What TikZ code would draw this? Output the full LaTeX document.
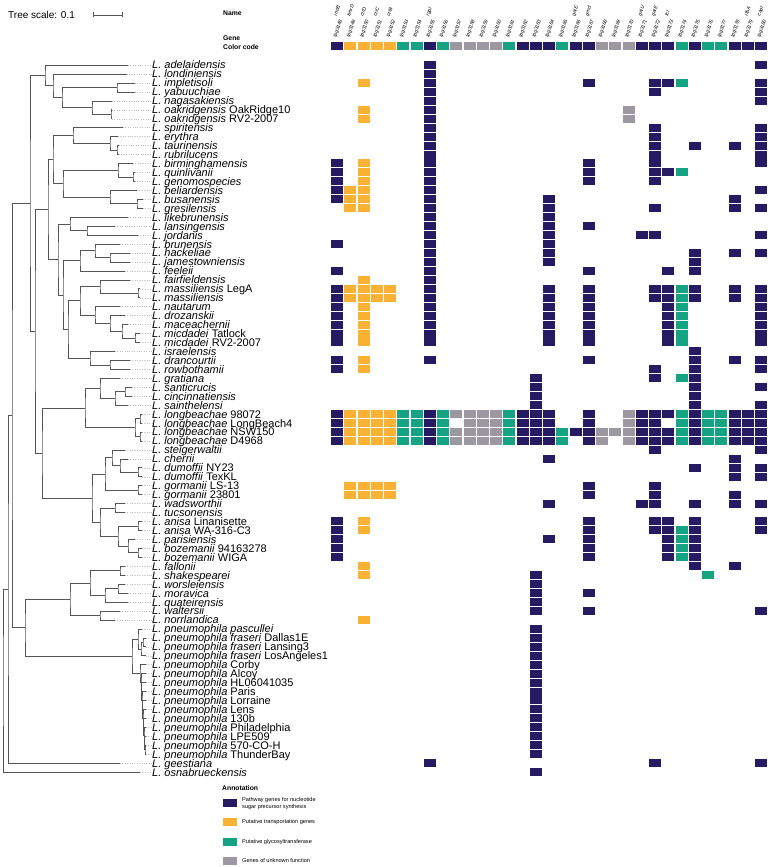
\documentclass[tikz,border=0pt]{standalone}
\usepackage{fontspec}
\setmainfont{Liberation Sans}
\usetikzlibrary{calc}

\definecolor{pathblue}{RGB}{38,26,98}
\definecolor{transorange}{RGB}{250,178,52}
\definecolor{gtteal}{RGB}{22,163,132}
\definecolor{unkgrey}{RGB}{156,152,162}
\definecolor{treegrey}{RGB}{85,85,85}

\tikzset{
  branch/.style={draw=treegrey, line width=0.6pt},
  leader/.style={draw=black!25, dotted, line width=0.4pt},
  taxon/.style={anchor=west, inner sep=0pt, text height=8pt, text depth=0pt,
    font=\fontsize{11}{11}\selectfont},
  cell/.style={minimum width=12pt, minimum height=8pt, inner sep=0pt},
  genelab/.style={rotate=70, anchor=west, inner sep=0pt,
    font=\fontsize{5}{5}\selectfont\itshape},
  headlab/.style={anchor=west, inner sep=0pt, font=\fontsize{6.8}{6.8}\selectfont\bfseries},
  legtext/.style={anchor=west, inner sep=0pt, align=left,
    font=\fontsize{5.6}{7}\selectfont},
}

% internal node of the tree: name, x, first child, second child
\newcommand\clade[4]{%
  \path let \p1=($(#3)!.5!(#4)$) in coordinate (#1) at (#2pt,\y1);
  \draw[branch] (#3) -| (#1) |- (#4);
}

\begin{document}
\begin{tikzpicture}[x=1pt,y=-1pt]
\useasboundingbox (0,0) rectangle (770,867);

% colour of each gene column
\foreach \c/\col in {1/pathblue,2/transorange,3/transorange,4/transorange,5/transorange,
  6/gtteal,7/gtteal,8/pathblue,9/gtteal,10/unkgrey,11/unkgrey,12/unkgrey,13/unkgrey,
  14/gtteal,15/pathblue,16/pathblue,17/pathblue,18/gtteal,19/pathblue,20/pathblue,
  21/unkgrey,22/unkgrey,23/unkgrey,24/pathblue,25/pathblue,26/pathblue,27/gtteal,
  28/pathblue,29/gtteal,30/gtteal,31/pathblue,32/pathblue,33/pathblue}
  {\expandafter\xdef\csname gcol\c\endcsname{\col}}

% tree scale
\node[anchor=west, inner sep=0pt, font=\fontsize{10}{10}\selectfont] (scaletxt) at (8,15) {Tree scale: 0.1};
\coordinate (sbl) at (93,15);
\coordinate (sbr) at (122,15);
\draw[branch] (sbl) -- (sbr);
\draw[branch] ($(sbl)+(0,-2.5)$) -- ($(sbl)+(0,2.5)$);
\draw[branch] ($(sbr)+(0,-2.5)$) -- ($(sbr)+(0,2.5)$);

% header
\node[headlab] (hname) at (223,13) {Name};
\node[headlab] (hgene) at (223,38) {Gene};
\node[headlab] (hcode) at (223,47) {Color code};
\foreach \c in {1,...,33}{
  \edef\cc{\csname gcol\c\endcsname}
  \pgfmathtruncatemacro\lpg{3147+\c}
  \node[cell, fill=\cc] (code\c) at ({337+13.25*(\c-1)},46) {};
  \node[genelab] (gene\c) at ({335+13.25*(\c-1)},37) {lpg\lpg};
}
\foreach \c/\nm in {1/rmlB,2/bexD,3/ctrD,4/ctrC,5/ctrB,8/rgpI,19/galE,20/gmd,
  24/galU,25/galE,26/fcl,32/rfbA,33/capI}
  \node[genelab] (name\c) at ({335+13.25*(\c-1)},16) {\nm};

% taxa
\foreach \r/\tx/\lab in {
  1/128/{\textit{L. adelaidensis}}, 2/127/{\textit{L. londiniensis}},
  3/135/{\textit{L. impletisoli}}, 4/135/{\textit{L. yabuuchiae}},
  5/112/{\textit{L. nagasakiensis}}, 6/112/{\textit{L. oakridgensis} OakRidge10},
  7/112/{\textit{L. oakridgensis} RV2-2007}, 8/123/{\textit{L. spiritensis}},
  9/118/{\textit{L. erythra}}, 10/119/{\textit{L. taurinensis}},
  11/119/{\textit{L. rubrilucens}}, 12/133/{\textit{L. birminghamensis}},
  13/135/{\textit{L. quinlivanii}}, 14/135/{\textit{L. genomospecies}},
  15/137/{\textit{L. beliardensis}}, 16/143/{\textit{L. busanensis}},
  17/143/{\textit{L. gresilensis}}, 18/128/{\textit{L. likebrunensis}},
  19/115/{\textit{L. lansingensis}}, 20/138/{\textit{L. jordanis}},
  21/120/{\textit{L. brunensis}}, 22/130/{\textit{L. hackeliae}},
  23/130/{\textit{L. jamestowniensis}}, 24/125/{\textit{L. feeleii}},
  25/130/{\textit{L. fairfieldensis}}, 26/140/{\textit{L. massiliensis} LegA},
  27/140/{\textit{L. massiliensis}}, 28/120/{\textit{L. nautarum}},
  29/125/{\textit{L. drozanskii}}, 30/128/{\textit{L. maceachernii}},
  31/140/{\textit{L. micdadei} Tatlock}, 32/140/{\textit{L. micdadei} RV2-2007},
  33/115/{\textit{L. israelensis}}, 34/130/{\textit{L. drancourtii}},
  35/130/{\textit{L. rowbothamii}}, 36/120/{\textit{L. gratiana}},
  37/132/{\textit{L. santicrucis}}, 38/132/{\textit{L. cincinnatiensis}},
  39/128/{\textit{L. sainthelensi}}, 40/142/{\textit{L. longbeachae} 98072},
  41/142/{\textit{L. longbeachae} LongBeach4}, 42/142/{\textit{L. longbeachae} NSW150},
  43/142/{\textit{L. longbeachae} D4968}, 44/125/{\textit{L. steigerwaltii}},
  45/128/{\textit{L. cherrii}}, 46/142/{\textit{L. dumoffii} NY23},
  47/142/{\textit{L. dumoffii} TexKL}, 48/142/{\textit{L. gormanii} LS-13},
  49/142/{\textit{L. gormanii} 23801}, 50/125/{\textit{L. wadsworthii}},
  51/125/{\textit{L. tucsonensis}}, 52/142/{\textit{L. anisa} Linanisette},
  53/142/{\textit{L. anisa} WA-316-C3}, 54/135/{\textit{L. parisiensis}},
  55/142/{\textit{L. bozemanii} 94163278}, 56/142/{\textit{L. bozemanii} WIGA},
  57/125/{\textit{L. fallonii}}, 58/125/{\textit{L. shakespearei}},
  59/125/{\textit{L. worsleiensis}}, 60/128/{\textit{L. moravica}},
  61/128/{\textit{L. quateirensis}}, 62/120/{\textit{L. waltersii}},
  63/115/{\textit{L. norrlandica}}, 64/142/{\textit{L. pneumophila pascullei}},
  65/146/{\textit{L. pneumophila fraseri} Dallas1E},
  66/146/{\textit{L. pneumophila fraseri} Lansing3},
  67/146/{\textit{L. pneumophila fraseri} LosAngeles1},
  68/146/{\textit{L. pneumophila} Corby}, 69/146/{\textit{L. pneumophila} Alcoy},
  70/146/{\textit{L. pneumophila} HL06041035}, 71/146/{\textit{L. pneumophila} Paris},
  72/146/{\textit{L. pneumophila} Lorraine}, 73/146/{\textit{L. pneumophila} Lens},
  74/146/{\textit{L. pneumophila} 130b}, 75/146/{\textit{L. pneumophila} Philadelphia},
  76/146/{\textit{L. pneumophila} LPE509}, 77/146/{\textit{L. pneumophila} 570-CO-H},
  78/146/{\textit{L. pneumophila} ThunderBay}, 79/120/{\textit{L. geestiana}},
  80/140/{\textit{L. osnabrueckensis}}}{
  \coordinate (e\r) at (\tx,{65+8.95*(\r-1)});
  \node[taxon] (t\r) at (152,{65+8.95*(\r-1)}) {\lab};
  \draw[leader] (e\r) -- (t\r.west);
}

% tree
\clade{a1}{117}{e3}{e4}
\clade{a2}{111}{e6}{e7}
\clade{a3}{92}{e5}{a2}
\clade{a4}{62}{a1}{a3}
\clade{a5}{53}{e2}{a4}
\clade{a6}{45}{e1}{a5}
\clade{b1}{117}{e10}{e11}
\clade{b2}{110}{e9}{b1}
\clade{b3}{73}{e8}{b2}
\clade{b4}{133}{e13}{e14}
\clade{b5}{118}{e12}{b4}
\clade{b6}{137}{e16}{e17}
\clade{b7}{110}{e15}{b6}
\clade{b8}{63}{b5}{b7}
\clade{b9}{53}{b3}{b8}
\clade{c1}{87}{e19}{e20}
\clade{c2}{70}{e18}{c1}
\clade{c3}{110}{e22}{e23}
\clade{c4}{95}{e21}{c3}
\clade{c5}{80}{c4}{e24}
\clade{d1}{138}{e26}{e27}
\clade{d2}{100}{e25}{d1}
\clade{d3}{135}{e31}{e32}
\clade{d4}{122}{e30}{d3}
\clade{d5}{110}{e29}{d4}
\clade{d6}{95}{e28}{d5}
\clade{d7}{80}{d2}{d6}
\clade{d8}{110}{e34}{e35}
\clade{d9}{90}{e33}{d8}
\clade{d10}{68}{d7}{d9}
\clade{c6}{63}{c5}{d10}
\clade{c7}{58}{c2}{c6}
\clade{b10}{48}{b9}{c7}
\clade{f1}{125}{e37}{e38}
\clade{f2}{115}{f1}{e39}
\clade{f3}{100}{e36}{f2}
\clade{f4}{140}{e40}{e41}
\clade{f5}{140}{e42}{e43}
\clade{f6}{135}{f4}{f5}
\clade{f7}{85}{f3}{f6}
\clade{g1}{138}{e46}{e47}
\clade{g2}{120}{e45}{g1}
\clade{g3}{112}{e44}{g2}
\clade{g4}{138}{e48}{e49}
\clade{g5}{105}{g3}{g4}
\clade{g6}{115}{e50}{e51}
\clade{g7}{138}{e52}{e53}
\clade{g8}{138}{e55}{e56}
\clade{g9}{128}{e54}{g8}
\clade{g10}{118}{g7}{g9}
\clade{g11}{100}{g6}{g10}
\clade{g12}{92}{g5}{g11}
\clade{f8}{42}{f7}{g12}
\clade{p2}{35}{b10}{f8}
\clade{p1}{30}{a6}{p2}
\clade{h1}{120}{e57}{e58}
\clade{h2}{118}{e59}{e60}
\clade{h3}{105}{h2}{e61}
\clade{h4}{90}{h1}{h3}
\clade{h5}{100}{e62}{e63}
\clade{h6}{70}{h4}{h5}
\clade{k1}{143}{e65}{e66}
\clade{k2}{141}{k1}{e67}
\clade{k3}{138}{e64}{k2}
\clade{k4}{145}{e77}{e78}
\clade{k5}{144.5}{e76}{k4}
\clade{k6}{144}{e75}{k5}
\clade{k7}{143.5}{e74}{k6}
\clade{k8}{143}{e73}{k7}
\clade{k9}{142.5}{e72}{k8}
\clade{k10}{142}{e71}{k9}
\clade{k11}{141.5}{e70}{k10}
\clade{k12}{141}{e69}{k11}
\clade{k13}{140}{e68}{k12}
\clade{k14}{132}{k3}{k13}
\clade{p4}{25}{h6}{k14}
\clade{p6}{12}{p1}{p4}
\clade{p7}{8}{p6}{e79}
\clade{root}{3}{p7}{e80}

% heatmap: present genes per taxon
\foreach \r/\lst in {1/{8,33},2/{8},3/{3,8,20,25,26,27,33},4/{8,25,33},5/{8,33},
  6/{3,8,23},7/{3,8,23},8/{8,25,33},9/{8,25,33},10/{8,25,28,31,33},11/{8,25,33},
  12/{1,3,8,20,25,33},13/{1,3,8,20,25,26,27},14/{1,3,8,20,25},15/{1,2,3,8,33},
  16/{1,2,3,8,17,31},17/{2,3,8,17,25,31,33},18/{8,17},19/{8,17,20},
  20/{8,17,24,25,33},21/{1,8,17},22/{8,17,28,31,33},23/{8,17,28},24/{1,8,20,26,28},
  25/{3,8},26/{1,2,3,4,5,8,17,20,25,26,27,28,31,33},
  27/{1,2,3,4,5,8,17,20,25,26,27,28,31,33},28/{1,3,8,17,20,26,27,33},
  29/{1,3,8,17,20,26,27,33},30/{1,3,8,17,20,26,27,33},31/{1,3,8,17,20,26,27,33},
  32/{1,3,8,17,20,26,27,33},33/{28},34/{1,3,8,20,28,31,33},35/{1,3,25,28,33},
  36/{16,25,27,28},37/{16,28,33},38/{16,28},39/{16,28,33},
  40/{1,2,3,4,5,6,7,8,9,10,11,12,13,14,15,16,17,20,23,24,25,26,27,28,29,30,31,32,33},
  41/{1,2,3,4,5,6,7,8,9,11,12,13,14,15,16,17,20,23,24,25,27,28,29,30,31,32,33},
  42/{1,2,3,4,5,6,7,8,9,10,11,12,13,14,15,16,17,18,19,20,21,22,23,24,25,26,27,28,29,30,31,32,33},
  43/{1,2,3,4,5,6,7,8,9,10,11,12,13,14,15,16,17,18,20,21,23,24,25,26,27,28,29,30,31,32,33},
  44/{25,33},45/{17,31},46/{28,31,33},47/{31,33},48/{2,3,4,5,20,25},
  49/{2,3,4,5,20,25,31},50/{17,24,25,28,31,33},52/{1,3,20,25,26,28,33},
  53/{1,3,20,25,26,27,28,33},54/{1,17,20,26,27,28},55/{1,20,26,27,28},
  56/{1,20,26,27,28},57/{3,28,31},58/{3,16,29},59/{16},60/{16,20},61/{16},
  62/{16,20,33},63/{3},64/{16},65/{16},66/{16},67/{16},68/{16},69/{16},70/{16},
  71/{16},72/{16},73/{16},74/{16},75/{16},76/{16},77/{16},78/{16},79/{8,25,33},80/{16}}{
  \foreach \c in \lst {
    \edef\cc{\csname gcol\c\endcsname}
    \node[cell, fill=\cc] (h\r-\c) at ({337+13.25*(\c-1)},{65+8.95*(\r-1)}) {};
  }
}

% legend
\node[headlab] (annot) at (222,788) {Annotation};
\foreach \i/\col/\txt in {1/pathblue/{Pathway genes for nucleotide\\sugar precursor synthesis},
  2/transorange/{Putative transportation genes},3/gtteal/{Putative glycosyltransferase},
  4/unkgrey/{Genes of unknown function}}{
  \node[cell, minimum width=14pt, fill=\col] (key\i) at (230,{784+19.2*\i}) {};
  \node[legtext] (keytxt\i) at (242,{784+19.2*\i}) {\txt};
}
\end{tikzpicture}
\end{document}
